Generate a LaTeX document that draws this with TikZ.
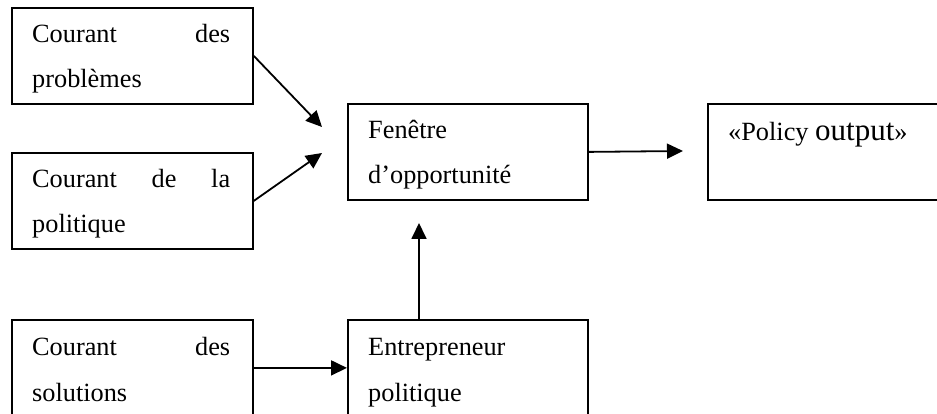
\documentclass[tikz,border=0pt]{standalone}
\usepackage{fontspec}
\setmainfont{Liberation Serif}
\usetikzlibrary{arrows.meta,calc}
\tikzset{
  boxnode/.style={draw=black, line width=1.8pt, rectangle, inner sep=0pt, anchor=north west},
  txt/.style={anchor=base west, inner sep=0pt, font=\fontsize{26.3}{30}\selectfont},
  conn/.style={line width=1.8pt, -{Triangle[length=16pt,width=15pt]}}
}
\newcommand{\jline}[1]{\makebox[198pt][s]{#1}}
\begin{document}
\begin{tikzpicture}[x=1pt,y=-1pt]
\useasboundingbox (0,0) rectangle (937,414);
% boxes
\node[boxnode, minimum width=241pt, minimum height=96pt] (b1) at (11,7) {};
\node[boxnode, minimum width=241pt, minimum height=96pt] (b2) at (11,152) {};
\node[boxnode, minimum width=241pt, minimum height=96pt] (b3) at (11,319) {};
\node[boxnode, minimum width=240pt, minimum height=96pt] (f) at (347,103) {};
\node[boxnode, minimum width=240pt, minimum height=96pt] (e) at (347,319) {};
\node[boxnode, minimum width=240pt, minimum height=96pt] (p) at (707,103) {};
% texts
\node[txt] (b1a) at (32,43) {\jline{Courant des}};
\node[txt] (b1b) at (32,88) {problèmes};
\node[txt] (b2a) at (32,188) {\jline{Courant de la}};
\node[txt] (b2b) at (32,233) {politique};
\node[txt] (b3a) at (32,355) {\jline{Courant des}};
\node[txt] (b3b) at (32,401) {solutions};
\node[txt] (fa) at (368,139) {Fenêtre};
\node[txt] (fb) at (368,184) {d’opportunité};
\node[txt] (ea) at (368,355) {Entrepreneur};
\node[txt] (eb) at (368,401) {politique};
\node[txt] (pa) at (728,141) {«Policy {\fontsize{31}{34}\selectfont output}»};
% connector endpoints
\coordinate (t1) at (322,127);
\coordinate (t2) at (322,153);
\coordinate (t3) at (419,223);
\coordinate (t4) at (683,151);
% connectors
\draw[conn] (b1.east) -- (t1);
\draw[conn] (b2.east) -- (t2);
\draw[conn] (b3.east) -- (e.west |- b3.east);
\draw[conn] ($(e.north west)+(72,0)$) -- (t3);
\draw[conn] (f.east) -- (t4);
\end{tikzpicture}
\end{document}
